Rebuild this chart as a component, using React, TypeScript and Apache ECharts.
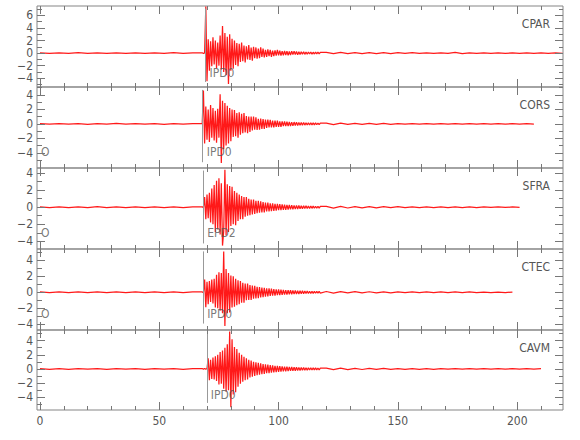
import React, { useEffect, useRef } from "react";
import * as echarts from "echarts";

// ---------- data ----------
const stations = ["CPAR", "CORS", "SFRA", "CTEC", "CAVM"];
const yMins = [-5.4, -6.1, -4.9, -4.7, -5.8];
const yMaxs = [7.5, 5.1, 4.6, 5.4, 5.5];
const yLabelValues = [
  [-4, -2, 0, 2, 4, 6],
  [-4, -2, 0, 2, 4],
  [-4, -2, 0, 2, 4],
  [-4, -2, 0, 2, 4],
  [-4, -2, 0, 2, 4],
];
const yMinorValues = [
  [-5, -3, -1, 1, 3, 5, 7],
  [-5, -3, -1, 1, 3, 5],
  [-3, -1, 1, 3],
  [-3, -1, 1, 3, 5],
  [-5, -3, -1, 1, 3, 5],
];
const xMin = -1.25;
const xMax = 219.2;
const xLabelValues = [0, 50, 100, 150, 200];
const xMinorValues = [10, 20, 30, 40, 60, 70, 80, 90, 110, 120, 130, 140, 160, 170, 180, 190, 210];

const pickTimes = [69.4, 68.2, 68.4, 68.4, 69.9];
const pickLabels = ["IPD0", "IPD0", "EPD2", "IPD0", "IPD0"];
const pickTop = [7.1, 4.7, 4.3, 5.1, 5.2];
const pickBottom = [-4.6, -5.3, -4.25, -3.9, -4.8];
const pickLabelY = [-3.2, -3.86, -3.0, -2.75, -3.66];
const originShown = [false, true, true, true, false];
const originLabel = "O";

// sampling of the traces (s)
const preStart = 0, preStep = 4;
const sigStart = 68, sigStep = 0.5;
const tailStart = 120, tailStep = 3;

const cparPre = [0.04, -0.05, 0.05, -0.04, 0.06, -0.05, 0.04, -0.06, 0.05, -0.04, 0.05, -0.05, 0.04, -0.05, 0.06, -0.04, 0.05];
const cparSig = [
  0.05, -0.06, 0.04, 7.4, -4.5, 2.2, -2.8, 1.9, -2.1, 2.5,
  -1.8, 2.0, -2.4, 1.7, -2.0, 2.8, -2.6, 4.3, -3.0, 3.2,
  -3.5, 2.6, -4.9, 3.0, -2.8, 2.3, -2.5, 2.0, -1.9, 1.6,
  -2.1, 1.5, -1.4, 1.7, -1.3, 1.2, -1.5, 1.1, -1.0, 1.3,
  -1.1, 0.9, -1.2, 1.0, -0.8, 0.9, -0.9, 0.7, -0.8, 0.9,
  -0.6, 0.7, -0.7, 0.5, -0.6, 0.6, -0.5, 0.5, -0.6, 0.4,
  -0.5, 0.45, -0.4, 0.5, -0.35, 0.4, -0.4, 0.3, -0.35, 0.35,
  -0.3, 0.3, -0.35, 0.25, -0.3, 0.3, -0.25, 0.28, -0.22, 0.25,
  -0.25, 0.2, -0.22, 0.22, -0.18, 0.2, -0.2, 0.17, -0.18, 0.18,
  -0.15, 0.17, -0.16, 0.14, -0.15, 0.15, -0.13, 0.14, -0.12, 0.12,
];
const cparTail = [0.12, -0.1, 0.1, -0.09, 0.09, -0.08, 0.08, -0.07, 0.07, -0.07, 0.06, -0.06, 0.06, -0.05, 0.05, -0.05, 0.05, -0.05, 0.12, -0.1, 0.05, -0.05, 0.05, -0.04, 0.04, -0.04, 0.04, -0.04, 0.04, -0.04, 0.04, -0.04, 0.04, -0.03];

const corsPre = [0.05, -0.04, 0.04, -0.05, 0.05, -0.06, 0.04, -0.05, 0.06, -0.04, 0.05, -0.05, 0.04, -0.06, 0.05, -0.04, 0.05];
const corsSig = [
  0.05, 4.6, -2.7, 2.4, -2.2, 2.0, -2.5, 2.6, -1.9, 2.2,
  -2.3, 1.8, -2.6, 2.1, -1.9, 4.1, -5.4, 3.2, -3.5, 2.9,
  -3.0, 2.5, -2.7, 2.2, -2.4, 2.0, -1.8, 1.9, -1.7, 1.5,
  -1.9, 1.6, -1.5, 1.4, -1.3, 1.5, -1.2, 1.1, -1.3, 1.0,
  -1.1, 1.0, -0.9, 1.0, -0.8, 0.9, -0.85, 0.7, -0.8, 0.75,
  -0.7, 0.65, -0.7, 0.6, -0.55, 0.6, -0.5, 0.55, -0.5, 0.45,
  -0.5, 0.45, -0.4, 0.45, -0.4, 0.35, -0.4, 0.35, -0.3, 0.35,
  -0.3, 0.3, -0.32, 0.28, -0.3, 0.25, -0.27, 0.25, -0.22, 0.24,
  -0.22, 0.2, -0.2, 0.2, -0.18, 0.19, -0.17, 0.17, -0.16, 0.16,
  -0.15, 0.15, -0.14, 0.14, -0.13, 0.13, -0.12, 0.12, -0.11, 0.11,
];
const corsTail = [0.1, -0.09, 0.09, -0.08, 0.08, -0.07, 0.07, -0.06, 0.06, -0.06, 0.05, -0.05, 0.05, -0.05, 0.05, -0.04, 0.04, -0.04, 0.04, -0.04, 0.04, -0.04, 0.04, -0.03, 0.03, -0.03, 0.03, -0.03, 0.03, -0.03];

const sfraPre = [0.04, -0.05, 0.05, -0.04, 0.05, -0.05, 0.06, -0.04, 0.05, -0.05, 0.04, -0.05, 0.05, -0.04, 0.05, -0.06, 0.04];
const sfraSig = [
  0.05, -0.05, 1.2, -1.4, 1.5, -1.3, 1.7, -1.8, 2.2, -2.0,
  2.6, -2.9, 3.1, -2.6, 3.4, -3.2, 2.8, -4.5, -2.8, 4.4,
  -3.3, 2.7, -2.9, 2.5, -2.2, 2.4, -2.0, 1.9, -2.1, 1.7,
  -1.6, 1.5, -1.4, 1.3, -1.4, 1.2, -1.1, 1.2, -1.0, 1.0,
  -0.95, 0.9, -0.85, 0.9, -0.8, 0.75, -0.7, 0.75, -0.65, 0.7,
  -0.6, 0.6, -0.6, 0.55, -0.5, 0.55, -0.5, 0.45, -0.45, 0.45,
  -0.42, 0.4, -0.4, 0.38, -0.35, 0.36, -0.33, 0.32, -0.32, 0.3,
  -0.3, 0.28, -0.27, 0.26, -0.25, 0.25, -0.24, 0.22, -0.22, 0.21,
  -0.2, 0.2, -0.19, 0.18, -0.18, 0.17, -0.16, 0.16, -0.15, 0.15,
  -0.14, 0.14, -0.13, 0.13, -0.12, 0.12, -0.12, 0.11, -0.11, 0.1,
];
const sfraTail = [0.1, -0.1, 0.09, -0.09, 0.08, -0.08, 0.07, -0.07, 0.07, -0.06, 0.06, -0.06, 0.05, -0.05, 0.05, -0.05, 0.05, -0.04, 0.04, -0.04, 0.04, -0.04, 0.04, -0.03, 0.03, -0.03, 0.03, -0.03];

const ctecPre = [0.05, -0.04, 0.05, -0.05, 0.04, -0.05, 0.06, -0.05, 0.04, -0.05, 0.05, -0.04, 0.05, -0.05, 0.04, -0.05, 0.05];
const ctecSig = [
  0.05, -0.05, 1.6, -1.85, 1.3, -1.5, 1.4, -1.2, 1.6, -1.4,
  1.7, -1.9, 2.2, -2.0, 2.5, -2.3, 2.4, -2.6, 5.1, -4.2,
  2.9, -2.6, 2.4, -2.5, 2.1, -1.9, 2.0, -1.8, 1.7, -1.6,
  1.5, -1.5, 1.4, -1.3, 1.2, -1.3, 1.1, -1.0, 1.1, -0.95,
  0.9, -0.95, 0.85, -0.8, 0.8, -0.75, 0.7, -0.72, 0.65, -0.65,
  0.6, -0.6, 0.55, -0.55, 0.5, -0.52, 0.48, -0.45, 0.45, -0.42,
  0.4, -0.4, 0.38, -0.36, 0.35, -0.34, 0.33, -0.31, 0.3, -0.3,
  0.28, -0.28, 0.26, -0.25, 0.25, -0.24, 0.23, -0.22, 0.22, -0.21,
  0.2, -0.2, 0.19, -0.18, 0.18, -0.17, 0.16, -0.16, 0.15, -0.15,
  0.14, -0.14, 0.13, -0.13, 0.12, -0.12, 0.12, -0.11, 0.11, -0.1,
];
const ctecTail = [0.1, -0.09, 0.09, -0.08, 0.08, -0.08, 0.07, -0.07, 0.06, -0.06, 0.06, -0.05, 0.05, -0.05, 0.05, -0.05, 0.04, -0.04, 0.04, -0.04, 0.04, -0.04, 0.03, -0.03, 0.03, -0.03, 0.03];

const cavmPre = [0.05, -0.05, 0.04, -0.05, 0.05, -0.04, 0.05, -0.06, 0.05, -0.04, 0.05, -0.05, 0.06, -0.04, 0.05, -0.05, 0.04];
const cavmSig = [
  0.05, -0.05, 0.06, -0.05, 0.05, 1.5, -1.6, 1.3, -1.4, 1.6,
  -1.5, 1.8, -1.7, 2.0, -2.2, 2.4, -2.1, 2.6, -2.8, 3.0,
  -3.2, 3.5, -3.0, 5.3, -5.4, 4.2, -3.6, 3.1, -3.3, 2.8,
  -2.5, 2.3, -2.1, 2.0, -1.8, 1.7, -1.6, 1.5, -1.5, 1.3,
  -1.2, 1.2, -1.1, 1.0, -1.0, 0.95, -0.9, 0.85, -0.8, 0.8,
  -0.75, 0.7, -0.7, 0.65, -0.6, 0.6, -0.58, 0.55, -0.52, 0.5,
  -0.48, 0.45, -0.45, 0.42, -0.4, 0.4, -0.38, 0.36, -0.35, 0.34,
  -0.33, 0.32, -0.3, 0.3, -0.28, 0.28, -0.27, 0.26, -0.25, 0.24,
  -0.23, 0.22, -0.22, 0.21, -0.2, 0.2, -0.19, 0.18, -0.18, 0.17,
  -0.16, 0.16, -0.15, 0.15, -0.14, 0.14, -0.13, 0.13, -0.12, 0.12,
];
const cavmTail = [0.11, -0.1, 0.1, -0.09, 0.09, -0.08, 0.08, -0.07, 0.07, -0.06, 0.06, -0.06, 0.05, -0.05, 0.05, -0.05, 0.05, -0.04, 0.04, -0.04, 0.04, -0.04, 0.04, -0.04, 0.03, -0.03, 0.03, -0.03, 0.03, -0.03, 0.03];

const traces = [
  [cparPre, cparSig, cparTail],
  [corsPre, corsSig, corsTail],
  [sfraPre, sfraSig, sfraTail],
  [ctecPre, ctecSig, ctecTail],
  [cavmPre, cavmSig, cavmTail],
];

// ---------- layout / style ----------
const chartWidth = 580;
const gridTops = [6, 87, 168, 249, 330];
const gridHeights = [81, 81, 81, 81, 80];
const gridLeft = 37;
const gridRight = 17;
const gridWidth = chartWidth - gridLeft - gridRight;
const frameColor = "#858585";
const tickColor = "#777";
const textColor = "#555";
const majorTickPx = 8;
const minorTickPx = 4;
const fontFamily = "'Liberation Sans Narrow', 'DejaVu Sans Condensed', 'Liberation Sans', sans-serif";

function buildTrace(pre: number[], sig: number[], tail: number[]) {
  const d: number[][] = [];
  pre.forEach((v, i) => d.push([preStart + i * preStep, v]));
  sig.forEach((v, i) => d.push([sigStart + i * sigStep, v]));
  tail.forEach((v, i) => d.push([tailStart + i * tailStep, v]));
  return d;
}

// frame ticks as marker segments in each panel's data space (tick length converted from px)
function buildFrameTicks(p: number) {
  const dyPerPx = (yMaxs[p] - yMins[p]) / gridHeights[p];
  const dxPerPx = (xMax - xMin) / gridWidth;
  const segs: any[] = [];
  const seg = (a: number[], b: number[]) => segs.push([{ coord: a }, { coord: b }]);
  const xTick = (v: number, px: number) => {
    seg([v, yMins[p]], [v, yMins[p] + px * dyPerPx]);
    seg([v, yMaxs[p]], [v, yMaxs[p] - px * dyPerPx]);
  };
  const yTick = (v: number, pxL: number, pxR: number) => {
    seg([xMin, v], [xMin + pxL * dxPerPx, v]);
    seg([xMax, v], [xMax - pxR * dxPerPx, v]);
  };
  xLabelValues.forEach((v) => xTick(v, majorTickPx));
  xMinorValues.forEach((v) => xTick(v, minorTickPx));
  yLabelValues[p].forEach((v) => yTick(v, majorTickPx, majorTickPx));
  yMinorValues[p].forEach((v) => yTick(v, minorTickPx + 1, minorTickPx));
  return segs;
}

const fmtNum = (v: number) => (v < 0 ? "\u2212" + Math.abs(v) : String(v));

function buildOption() {
  const grid: any[] = [];
  const xAxis: any[] = [];
  const yAxis: any[] = [];
  const series: any[] = [];
  const title: any[] = [];

  stations.forEach((name, p) => {
    grid.push({
      left: gridLeft,
      right: gridRight,
      top: gridTops[p],
      height: gridHeights[p],
      show: true,
      borderColor: frameColor,
      borderWidth: 1,
    });
    const isLast = p === stations.length - 1;
    xAxis.push({
      type: "value",
      gridIndex: p,
      position: "bottom",
      min: xMin,
      max: xMax,
      axisLine: { show: false, onZero: false },
      splitLine: { show: false },
      axisTick: { show: false },
      axisLabel: {
        show: isLast,
        customValues: xLabelValues,
        color: textColor,
        fontSize: 12,
        fontFamily,
        margin: 5,
      },
    });
    yAxis.push({
      type: "value",
      gridIndex: p,
      position: "left",
      min: yMins[p],
      max: yMaxs[p],
      axisLine: { show: false, onZero: false },
      splitLine: { show: false },
      axisTick: { show: false },
      axisLabel: {
        show: true,
        customValues: yLabelValues[p],
        formatter: fmtNum,
        color: textColor,
        fontSize: 12,
        fontFamily,
        margin: 4,
      },
    });

    const [pre, sig, tail] = traces[p];
    series.push({
      type: "line",
      name: name,
      xAxisIndex: p,
      yAxisIndex: p,
      data: buildTrace(pre, sig, tail),
      showSymbol: false,
      symbol: "none",
      clip: true,
      lineStyle: { color: "#ff0000", width: 1.25, opacity: 0.9 },
      markLine: {
        silent: true,
        symbol: "none",
        label: { show: false },
        lineStyle: { color: "#999", width: 1, type: "solid" },
        data: [[{ coord: [pickTimes[p], pickTop[p]] }, { coord: [pickTimes[p], pickBottom[p]] }]],
      },
      z: 2,
    });

    const labelData: any[] = [{ value: [pickTimes[p], pickLabelY[p]], name: pickLabels[p], label: { distance: 4 } }];
    if (originShown[p]) labelData.push({ value: [0, pickLabelY[p]], name: originLabel, label: { distance: 1 } });
    series.push({
      type: "scatter",
      xAxisIndex: p,
      yAxisIndex: p,
      symbolSize: 0,
      silent: true,
      clip: false,
      data: labelData,
      label: {
        show: true,
        position: "right",
        formatter: "{b}",
        color: textColor,
        fontSize: 12,
        fontFamily,
      },
      markLine: {
        silent: true,
        symbol: "none",
        label: { show: false },
        emphasis: { disabled: true },
        lineStyle: { color: tickColor, width: 1, type: "solid", opacity: 1 },
        data: buildFrameTicks(p),
      },
      z: 3,
    });

    title.push({
      text: name,
      right: 30,
      top: gridTops[p] + 12,
      padding: 0,
      textStyle: { color: textColor, fontSize: 12, fontWeight: "normal", fontFamily },
    });
  });

  return {
    animation: false,
    title,
    grid,
    xAxis,
    yAxis,
    series,
  };
}

export default function App() {
  const ref = useRef<HTMLDivElement>(null);
  useEffect(() => {
    if (!ref.current) return;
    const chart = echarts.init(ref.current, undefined, { renderer: "svg" });
    chart.setOption(buildOption() as any);
    return () => chart.dispose();
  }, []);
  return (
    <div
      ref={ref}
      style={{ position: "fixed", left: 0, top: 0, width: 580, height: 440, background: "#fff" }}
    />
  );
}
